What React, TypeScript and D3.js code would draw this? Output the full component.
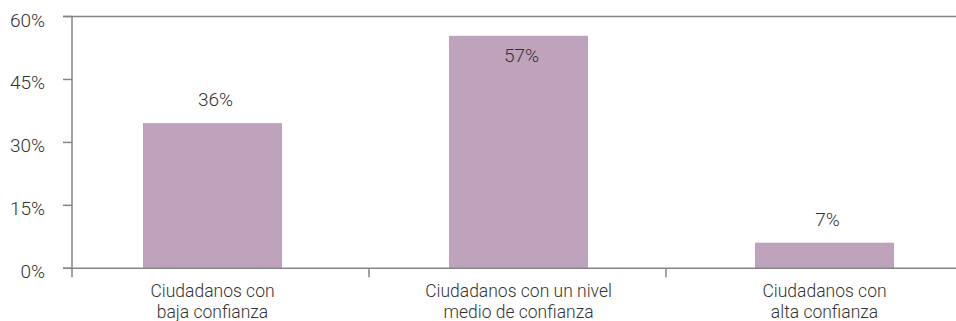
import React from "react";
import * as d3 from "d3";

const categories = [
  ["Ciudadanos con", "baja confianza"],
  ["Ciudadanos con un nivel", "medio de confianza"],
  ["Ciudadanos con", "alta confianza"],
];
const barValues = [34.6, 55.4, 6.1];
const valueLabels = ["36%", "57%", "7%"];
const yTicks = [0, 15, 30, 45, 60];

const W = 956;
const H = 321;
const FONT = "Roboto, 'Open Sans', sans-serif";

export default function App() {
  const left = 72;
  const top = 16.5;
  const bottom = 268.3;
  const keys = categories.map((_, i) => String(i));

  const y = d3.scaleLinear().domain([0, 60]).range([bottom, top]);
  const band = d3.scaleBand<string>().domain(keys).range([left, left + 3 * 297]);
  const step = 306;
  const bw = 139;
  const pad = 1 - bw / step;
  const bars = d3
    .scaleBand<string>()
    .domain(keys)
    .range([143 - (step - bw) / 2, 143 - (step - bw) / 2 + 3 * step])
    .paddingInner(pad)
    .paddingOuter(pad / 2);

  const axisColor = "#858585";
  const textColor = "#333333";

  return (
    <svg width={W} height={H} style={{ position: "absolute", left: 0, top: 0 }}>
      {barValues.map((v, i) => (
        <rect
          key={i}
          x={bars(keys[i])!}
          y={y(v)}
          width={bars.bandwidth()}
          height={bottom - y(v)}
          fill="#BFA3BD"
        />
      ))}
      <line x1={left - 9} x2={W} y1={y(60)} y2={y(60)} stroke={axisColor} strokeWidth={1.5} />
      <line x1={left} x2={left} y1={y(60)} y2={bottom + 9} stroke={axisColor} strokeWidth={1.5} />
      {yTicks.map((t) => (
        <g key={t}>
          <line x1={left - 9} x2={left} y1={y(t)} y2={y(t)} stroke={axisColor} strokeWidth={1.5} />
          <text
            x={45}
            y={y(t) + 10}
            textAnchor="end"
            fontFamily={FONT}
            fontWeight={300}
            fontSize={19}
            fill={textColor}
          >
            {t}%
          </text>
        </g>
      ))}
      <line x1={left - 9} x2={W} y1={bottom} y2={bottom} stroke={axisColor} strokeWidth={1.5} />
      {keys.slice(1).map((k) => (
        <line
          key={k}
          x1={band(k)!}
          x2={band(k)!}
          y1={bottom}
          y2={bottom + 9}
          stroke={axisColor}
          strokeWidth={1.5}
        />
      ))}
      {barValues.map((v, i) => {
        const cx = bars(keys[i])! + bars.bandwidth() / 2;
        const inside = y(v) - 30 < top;
        return (
          <text
            key={i}
            x={cx + 3}
            y={inside ? y(v) + 26 : y(v) - 17}
            textAnchor="middle"
            fontFamily={FONT}
            fontWeight={300}
            fontSize={19}
            fill={textColor}
          >
            {valueLabels[i]}
          </text>
        );
      })}
      {categories.map((lines, i) => {
        const cx = bars(keys[i])! + bars.bandwidth() / 2;
        return (
          <text
            key={i}
            textAnchor="middle"
            fontFamily={FONT}
            fontWeight={300}
            fontSize={17.5}
            fill={textColor}
          >
            {lines.map((l, j) => (
              <tspan key={j} x={cx} y={297 + j * 21}>
                {l}
              </tspan>
            ))}
          </text>
        );
      })}
    </svg>
  );
}
